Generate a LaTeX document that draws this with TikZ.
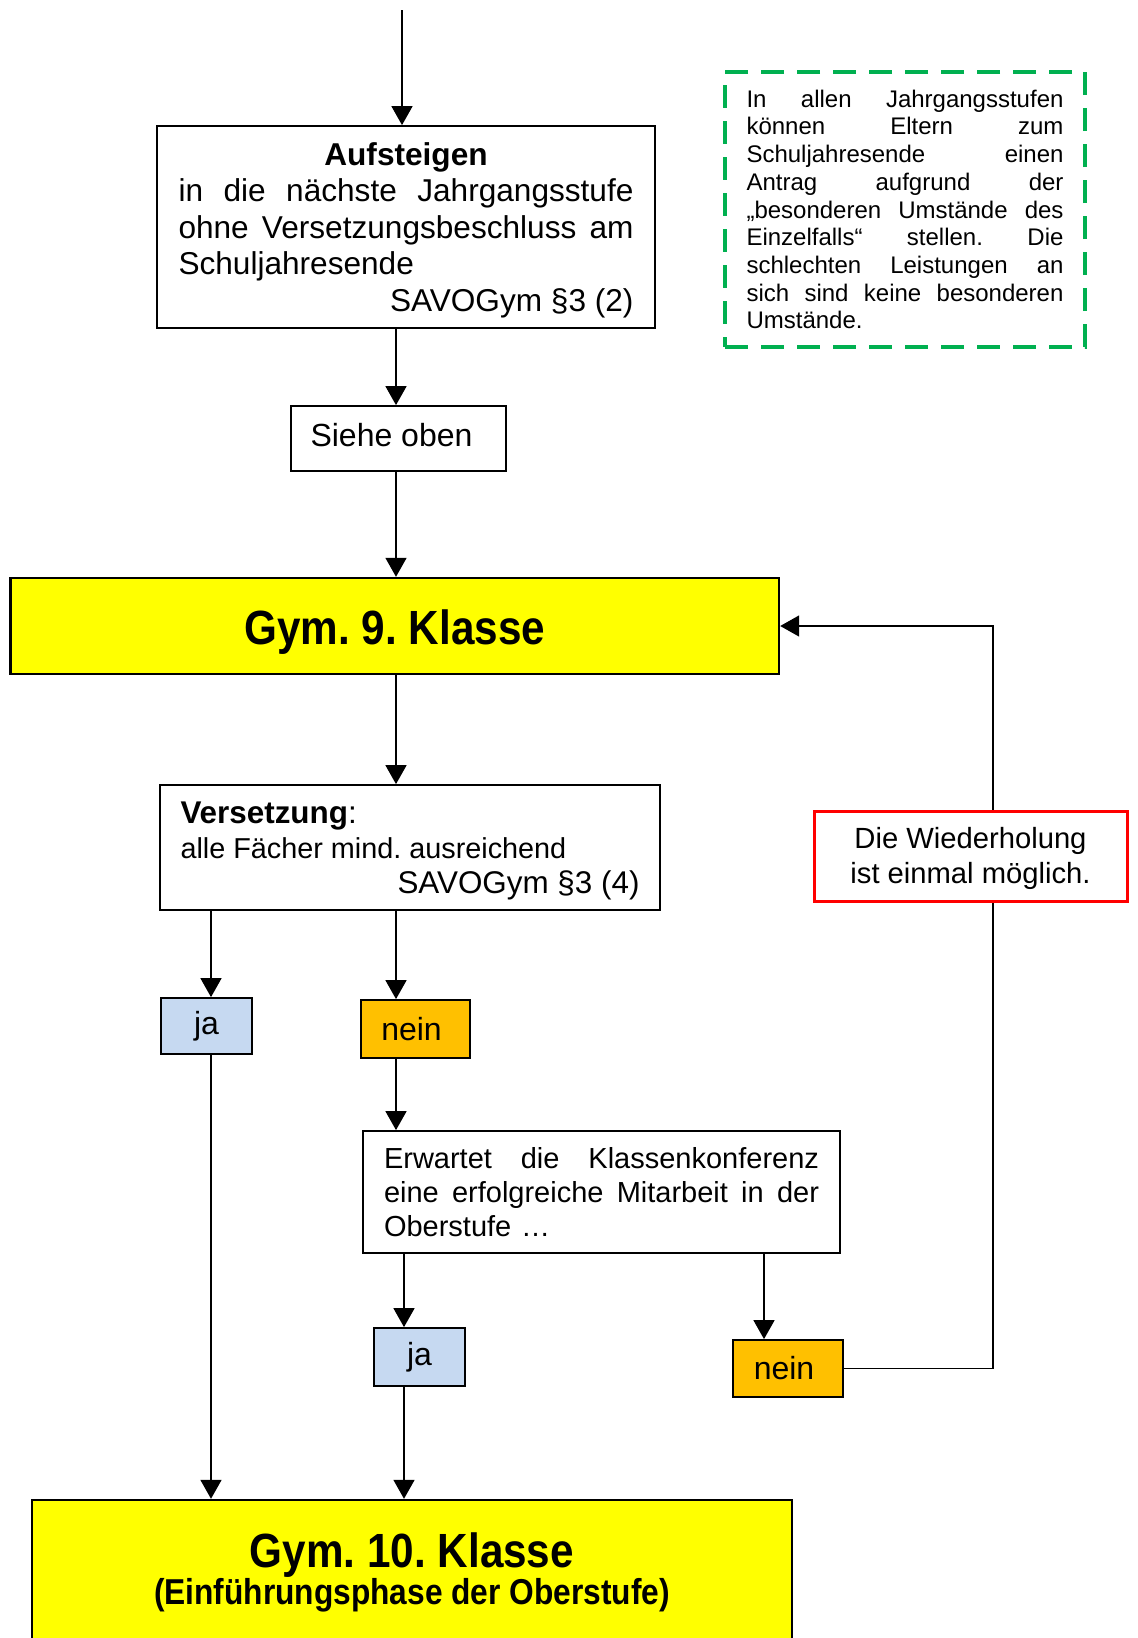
\documentclass[tikz,border=0pt]{standalone}
\usepackage{fontspec}
\setmainfont{Liberation Sans}
\newfontface\gymfont[FakeStretch=0.88]{Liberation Sans Bold}
\usetikzlibrary{arrows.meta}
\definecolor{jablue}{HTML}{C6D9F1}
\definecolor{neinorange}{HTML}{FFC000}
\definecolor{gymyellow}{HTML}{FFFF00}
\definecolor{wred}{HTML}{FF0000}
\definecolor{dgreen}{HTML}{00B050}
\frenchspacing
\newcommand\jline[2]{\leavevmode\hbox to #1{#2}}
\newcommand\shiftv[2]{\raisebox{#1}[\height][\depth]{#2}}
\begin{document}
\begin{tikzpicture}[x=0.5pt,y=-0.5pt,
  frame/.style={draw=black,line width=0.9pt,fill=white},
  pos/.style n args={4}{at={({(#1+#3)/2},{(#2+#4)/2})},minimum width={(#3-#1)*0.5pt},minimum height={(#4-#2)*0.5pt},inner sep=0pt},
  gymbox/.style={draw=black,line width=1.2pt,fill=gymyellow},
  jabox/.style={frame,fill=jablue,font=\fontsize{16}{18}\selectfont},
  neinbox/.style={frame,fill=neinorange,font=\fontsize{16}{18}\selectfont},
  arr/.style={line width=0.8pt,-{Triangle[width=10.5pt,length=9.5pt]}},
  conn/.style={line width=0.8pt},
]
\useasboundingbox (0,0) rectangle (1137,1638);

% column coordinates
\coordinate (xa) at (211,0);
\coordinate (xb) at (396,0);
\coordinate (xd) at (404,0);
\coordinate (xe) at (764,0);
\coordinate (xf) at (993,0);
\coordinate (top) at (402,10);

\node[frame,pos={157}{126}{655}{328},font=\fontsize{15.8}{18.3}\selectfont] (auf)
 {\shiftv{-1.6pt}{\parbox{227.5pt}{\jline{227.5pt}{\hfil\bfseries Aufsteigen\hfil}\\
  \jline{227.5pt}{in\hfill die\hfill nächste\hfill Jahrgangsstufe}\\
  \jline{227.5pt}{ohne\hfill Versetzungsbeschluss\hfill am}\\
  Schuljahresende\\
  \jline{227.5pt}{\hfill SAVOGym §3 (2)}}}};

\node[draw=dgreen,line width=1.6pt,dash pattern=on 11.5pt off 6.5pt,fill=white,pos={725}{72}{1085}{347},text width=158.5pt,align=left,font=\fontsize{12}{13.85}\selectfont] (note)
 {\jline{158.5pt}{In\hfill allen\hfill Jahrgangsstufen}\\
  \jline{158.5pt}{können\hfill Eltern\hfill zum}\\
  \jline{158.5pt}{Schuljahresende\hfill einen}\\
  \jline{158.5pt}{Antrag\hfill aufgrund\hfill der}\\
  \jline{158.5pt}{„besonderen\hfill Umstände\hfill des}\\
  \jline{158.5pt}{Einzelfalls“\hfill stellen.\hfill Die}\\
  \jline{158.5pt}{schlechten\hfill Leistungen\hfill an}\\
  \jline{158.5pt}{sich\hfill sind\hfill keine\hfill besonderen}\\
  Umstände.};

\node[frame,pos={291}{406}{506}{471},font=\fontsize{16}{18}\selectfont] (siehe) {\shiftv{1.5pt}{Siehe oben}\hspace*{7pt}};

\node[gymbox,pos={10.5}{578}{779}{674},font=\gymfont\fontsize{24}{26}\selectfont] (gym9) {\shiftv{-3.2pt}{Gym. 9. Klasse}};

\node[frame,pos={160}{785}{660}{910},font=\fontsize{15.7}{17.6}\selectfont] (vers)
 {\shiftv{-1.6pt}{\parbox{229.5pt}{{\bfseries Versetzung}:\\
  {\fontsize{14.4}{17.6}\selectfont alle Fächer mind. ausreichend}\\
  \jline{229.5pt}{\hfill SAVOGym §3 (4)}}}};

\node[draw=wred,line width=1.5pt,fill=white,pos={814}{811}{1127}{901},font=\fontsize{14.6}{17.5}\selectfont] (wied)
 {\shiftv{-1.5pt}{\begin{tabular}{@{}c@{}}Die Wiederholung\\ist einmal möglich.\end{tabular}}};

\node[jabox,pos={161}{998}{252}{1054}] (ja1) {ja};
\node[neinbox,pos={361}{1000}{470}{1058}] (nein1) {nein\hspace*{4pt}};

\node[frame,pos={363}{1131}{840}{1253},text width=217.5pt,align=left,font=\fontsize{14.5}{17.1}\selectfont] (erw)
 {\jline{217.5pt}{Erwartet\hfill die\hfill Klassenkonferenz}\\
  \jline{217.5pt}{eine\hfill erfolgreiche\hfill Mitarbeit\hfill in\hfill der}\\
  Oberstufe …};

\node[jabox,pos={374}{1328}{465}{1386}] (ja2) {ja};
\node[neinbox,pos={733}{1340}{843}{1397}] (nein2) {nein\hspace*{4pt}};

\node[gymbox,pos={32}{1500}{792}{1644},align=center,font=\gymfont\fontsize{18}{18.5}\selectfont] (gym10)
 {{\fontsize{24}{18.5}\selectfont Gym. 10. Klasse}\\
  {\fontsize{18}{18.5}\selectfont (Einführungsphase der Oberstufe)}};

% connectors
\draw[arr] (top) -- (top |- auf.north);
\draw[arr] (xb |- auf.south) -- (xb |- siehe.north);
\draw[arr] (xb |- siehe.south) -- (xb |- gym9.north);
\draw[arr] (xb |- gym9.south) -- (xb |- vers.north);
\draw[arr] (xa |- vers.south) -- (xa |- ja1.north);
\draw[arr] (xb |- vers.south) -- (xb |- nein1.north);
\draw[arr] (xb |- nein1.south) -- (xb |- erw.north);
\draw[arr] (xd |- erw.south) -- (xd |- ja2.north);
\draw[arr] (xe |- erw.south) -- (xe |- nein2.north);
\draw[arr] (xa |- ja1.south) -- (xa |- gym10.north);
\draw[arr] (xd |- ja2.south) -- (xd |- gym10.north);
\draw[conn] (nein2.east) -| (xf |- wied.south);
\draw[arr] (xf |- wied.north) |- (gym9.east);
\end{tikzpicture}
\end{document}
